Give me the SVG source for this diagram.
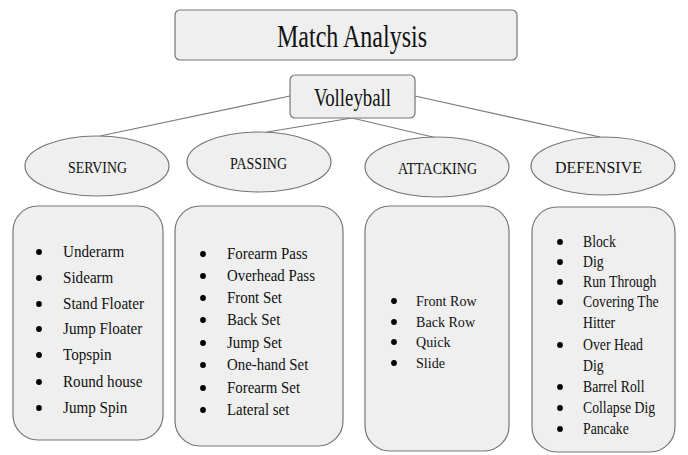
<svg xmlns="http://www.w3.org/2000/svg" width="688" height="455" viewBox="0 0 688 455">
<style>
.box{fill:#efefef;stroke:#767676;stroke-width:1.2}
.con{stroke:#7a7a7a;stroke-width:1.2;fill:none}
.t{font-family:"Liberation Serif","Times New Roman",serif;fill:#111}
.lbl{font-size:17px;text-anchor:middle}
.dot{fill:#000}
</style>
<rect width="688" height="455" fill="#ffffff"/>
<g id="connectors">
<line class="con" x1="290" y1="96" x2="100" y2="136"/>
<line class="con" x1="415" y1="96" x2="600" y2="137"/>
<line class="con" x1="352" y1="118" x2="267" y2="132"/>
<line class="con" x1="352" y1="118" x2="437" y2="138"/>
</g>
<g id="title" class="t">
<rect class="box" x="175" y="10" width="342" height="50" rx="5"/>
<text x="352" y="47" font-size="31" text-anchor="middle" textLength="150" lengthAdjust="spacingAndGlyphs">Match Analysis</text>
</g>
<g id="volleyball" class="t">
<rect class="box" x="290" y="75" width="125" height="43" rx="5"/>
<text x="352.5" y="106" font-size="25" text-anchor="middle" textLength="77" lengthAdjust="spacingAndGlyphs">Volleyball</text>
</g>
<g id="serving" class="t">
<ellipse class="box" cx="97" cy="166" rx="72" ry="30"/>
<text class="lbl" x="97.5" y="173" textLength="59" lengthAdjust="spacingAndGlyphs">SERVING</text>
</g>
<g id="passing" class="t">
<ellipse class="box" cx="259" cy="162" rx="72" ry="30"/>
<text class="lbl" x="258.5" y="169" textLength="57" lengthAdjust="spacingAndGlyphs">PASSING</text>
</g>
<g id="attacking" class="t">
<ellipse class="box" cx="437" cy="167" rx="72" ry="30"/>
<text class="lbl" x="437.5" y="174" textLength="79" lengthAdjust="spacingAndGlyphs">ATTACKING</text>
</g>
<g id="defensive" class="t">
<ellipse class="box" cx="603" cy="166" rx="72" ry="29"/>
<text class="lbl" x="598.5" y="173" textLength="87" lengthAdjust="spacingAndGlyphs">DEFENSIVE</text>
</g>
<g id="serving-list" class="t">
<rect class="box" x="13" y="206" width="150" height="234" rx="25"/>
<g class="dot">
<circle cx="39" cy="252" r="2.9"/><circle cx="39" cy="278" r="2.9"/><circle cx="39" cy="304" r="2.9"/><circle cx="39" cy="329" r="2.9"/><circle cx="39" cy="355" r="2.9"/><circle cx="39" cy="382" r="2.9"/><circle cx="39" cy="408" r="2.9"/>
</g>
<g transform="translate(63 0) scale(0.89 1)" font-size="17">
<text x="0" y="257">Underarm</text>
<text x="0" y="283">Sidearm</text>
<text x="0" y="309">Stand Floater</text>
<text x="0" y="334">Jump Floater</text>
<text x="0" y="360">Topspin</text>
<text x="0" y="387">Round house</text>
<text x="0" y="413">Jump Spin</text>
</g>
</g>
<g id="passing-list" class="t">
<rect class="box" x="175" y="206" width="168" height="240" rx="25"/>
<g class="dot">
<circle cx="203" cy="254" r="2.9"/><circle cx="203" cy="276" r="2.9"/><circle cx="203" cy="298" r="2.9"/><circle cx="203" cy="320" r="2.9"/><circle cx="203" cy="343" r="2.9"/><circle cx="203" cy="365" r="2.9"/><circle cx="203" cy="388" r="2.9"/><circle cx="203" cy="410" r="2.9"/>
</g>
<g transform="translate(227 0) scale(0.93 1)" font-size="16">
<text x="0" y="259">Forearm Pass</text>
<text x="0" y="281">Overhead Pass</text>
<text x="0" y="303">Front Set</text>
<text x="0" y="325">Back Set</text>
<text x="0" y="348">Jump Set</text>
<text x="0" y="370">One-hand Set</text>
<text x="0" y="393">Forearm Set</text>
<text x="0" y="415">Lateral set</text>
</g>
</g>
<g id="attacking-list" class="t">
<rect class="box" x="365" y="206" width="144" height="245" rx="25"/>
<g class="dot">
<circle cx="394" cy="301" r="2.9"/><circle cx="394" cy="322" r="2.9"/><circle cx="394" cy="342" r="2.9"/><circle cx="394" cy="363" r="2.9"/>
</g>
<g transform="translate(416 0) scale(0.94 1)" font-size="15">
<text x="0" y="306">Front Row</text>
<text x="0" y="327">Back Row</text>
<text x="0" y="347">Quick</text>
<text x="0" y="368">Slide</text>
</g>
</g>
<g id="defensive-list" class="t">
<rect class="box" x="532" y="207" width="143" height="245" rx="25"/>
<g class="dot">
<circle cx="560" cy="242" r="2.9"/><circle cx="560" cy="262" r="2.9"/><circle cx="560" cy="282" r="2.9"/><circle cx="560" cy="302" r="2.9"/><circle cx="560" cy="345" r="2.9"/><circle cx="560" cy="387" r="2.9"/><circle cx="560" cy="408" r="2.9"/><circle cx="560" cy="429" r="2.9"/>
</g>
<g transform="translate(583 0) scale(0.86 1)" font-size="16">
<text x="0" y="247">Block</text>
<text x="0" y="267">Dig</text>
<text x="0" y="287">Run Through</text>
<text x="0" y="307">Covering The</text>
<text x="0" y="328">Hitter</text>
<text x="0" y="350">Over Head</text>
<text x="0" y="371">Dig</text>
<text x="0" y="392">Barrel Roll</text>
<text x="0" y="413">Collapse Dig</text>
<text x="0" y="434">Pancake</text>
</g>
</g>
</svg>
